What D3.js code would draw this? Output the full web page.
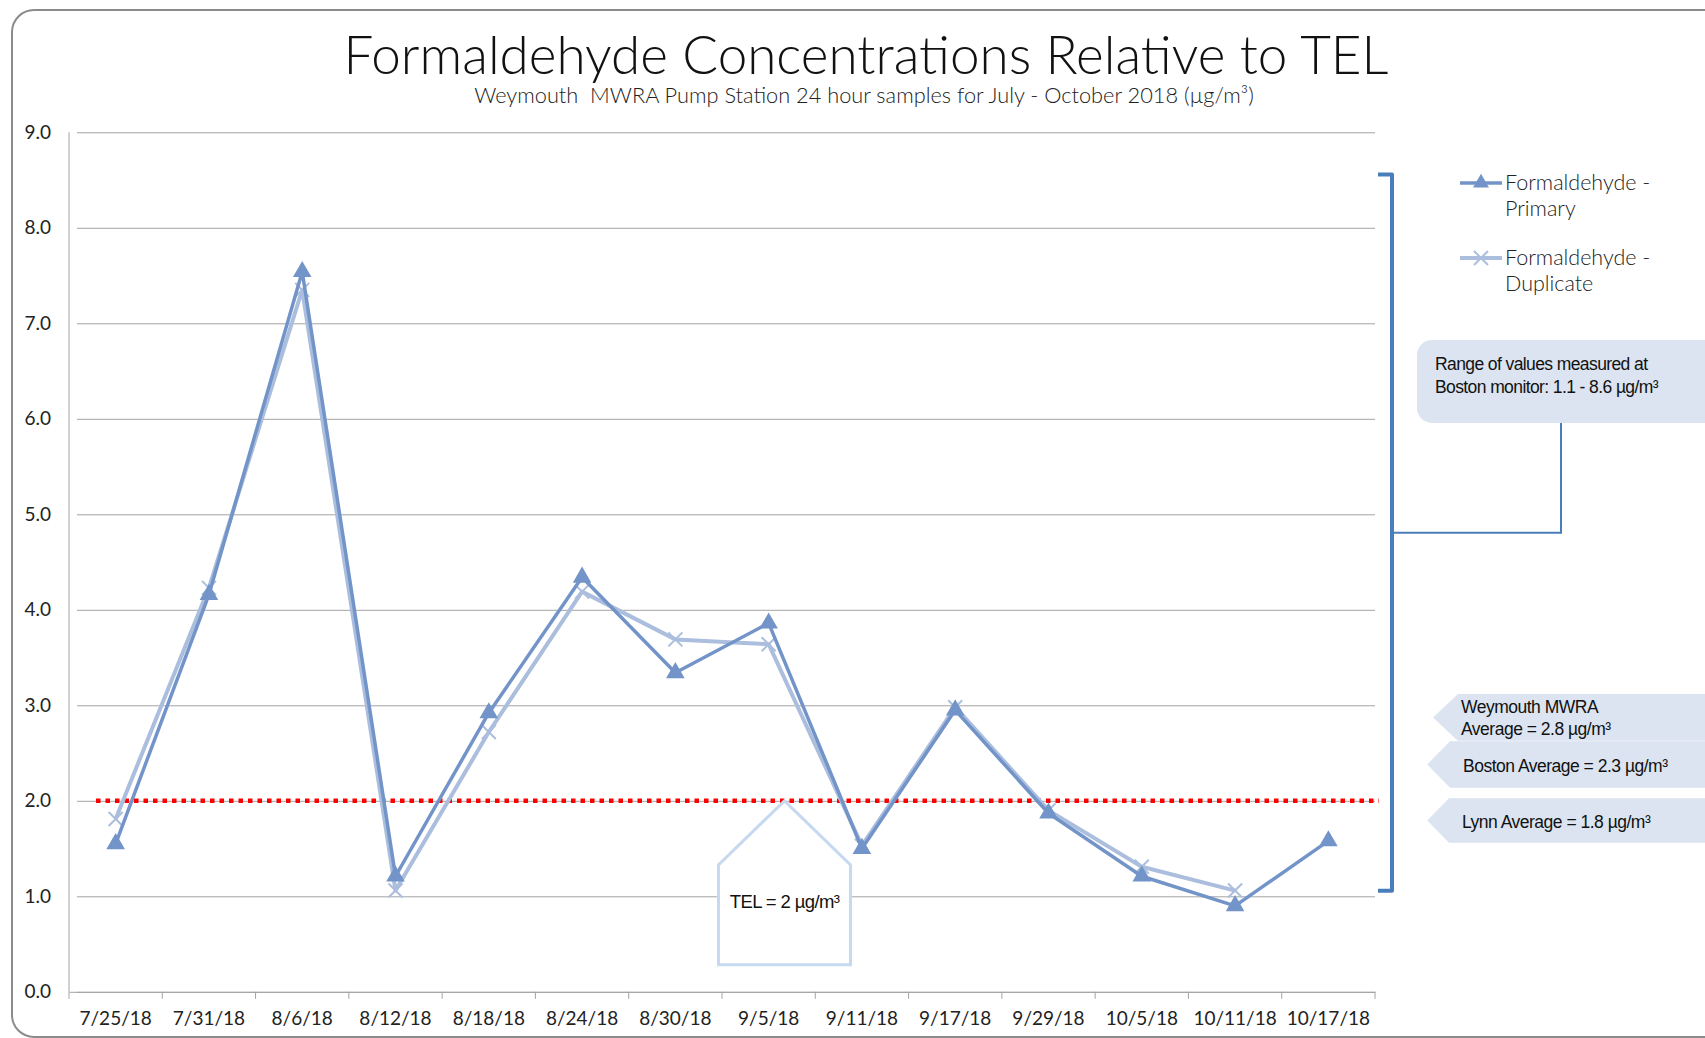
<!DOCTYPE html>
<html>
<head>
<meta charset="utf-8">
<script src="https://cdn.jsdelivr.net/npm/d3@7"></script>
<style>
  html, body { margin: 0; padding: 0; background: #fff; overflow: hidden; }
  svg { display: block; }
</style>
</head>
<body>
<div id="chart"></div>
<script>
// sample dates (x categories)
const dates = ["7/25/18", "7/31/18", "8/6/18", "8/12/18", "8/18/18", "8/24/18", "8/30/18",
               "9/5/18", "9/11/18", "9/17/18", "9/29/18", "10/5/18", "10/11/18", "10/17/18"];
// formaldehyde, µg/m3
const primary   = [1.55, 4.16, 7.54, 1.21, 2.92, 4.34, 3.34, 3.86, 1.50, 2.95, 1.87, 1.21, 0.90, 1.58];
const duplicate = [1.81, 4.23, 7.35, 1.06, 2.72, 4.19, 3.69, 3.64, 1.53, 2.98, 1.90, 1.31, 1.06, null];
const yTicks = [0, 1, 2, 3, 4, 5, 6, 7, 8, 9];
const telValue = 2;
const bostonRange = [1.1, 8.6];
const averageNotes = [
  ["Weymouth MWRA", "Average = 2.8 µg/m³"],
  ["Boston Average = 2.3 µg/m³"],
  ["Lynn Average = 1.8 µg/m³"]
];

const W = 1705, H = 1038;
const gothic = "Lato, 'Open Sans', sans-serif";
const arial = "'Liberation Sans', Arial, sans-serif";
const cPrimary = "#7394c8", cDup = "#abbedd";

const svg = d3.select("#chart").append("svg")
  .attr("width", W).attr("height", H);

// outer frame
svg.append("rect")
  .attr("x", 12).attr("y", 10).attr("width", 1730).attr("height", 1027)
  .attr("rx", 22)
  .attr("fill", "none").attr("stroke", "#8b8b8b").attr("stroke-width", 2);

// title
const fitWidth = (t, w) => {
  const cur = t.node().getComputedTextLength();
  t.attr("font-size", parseFloat(t.attr("font-size")) * w / cur);
};
const title = svg.append("text")
  .attr("x", 866).attr("y", 74).attr("text-anchor", "middle")
  .attr("font-family", gothic).attr("font-weight", 300).attr("font-size", 48).attr("fill", "#111")
  .text("Formaldehyde Concentrations Relative to TEL");
fitWidth(title, 1045);
const sub = svg.append("text")
  .attr("x", 864).attr("y", 103).attr("text-anchor", "middle")
  .attr("font-family", gothic).attr("font-weight", 300).attr("font-size", 18).attr("fill", "#222")
  .style("white-space", "pre")
  .text("Weymouth  MWRA Pump Station 24 hour samples for July - October 2018 (µg/m³)");
fitWidth(sub, 780);

// scales
const x = d3.scaleBand().domain(dates).range([69, 1375]);
const y = d3.scaleLinear().domain([0, 9]).range([991.8, 132.3]);
const cx = d => x(d) + x.bandwidth() / 2;

// grid + y axis
const yAxis = svg.append("g")
  .attr("transform", `translate(${x.range()[0]},0)`)
  .call(d3.axisLeft(y).tickValues(yTicks).tickFormat(d3.format(".1f"))
    .tickSize(-(x.range()[1] - x.range()[0])).tickPadding(18));
yAxis.select(".domain").remove();
yAxis.selectAll(".tick line").attr("stroke", "#a3a3a3").attr("x1", 8);
yAxis.selectAll(".tick text")
  .attr("font-family", gothic).attr("font-size", 19).attr("fill", "#222");
svg.append("line")
  .attr("x1", x.range()[0]).attr("x2", x.range()[0]).attr("y1", y(9)).attr("y2", y(0))
  .attr("stroke", "#a3a3a3");

// x axis: labels centred, ticks on band edges
const xAxis = svg.append("g")
  .attr("transform", `translate(0,${y(0)})`)
  .call(d3.axisBottom(x).tickSize(0).tickPadding(20));
xAxis.select(".domain").attr("stroke", "#a3a3a3");
xAxis.selectAll(".tick text")
  .attr("font-family", gothic).attr("font-size", 19).attr("fill", "#222");
svg.append("g").selectAll("line")
  .data(dates.map(d => x(d)).concat([x.range()[1]]))
  .join("line")
  .attr("x1", d => d).attr("x2", d => d)
  .attr("y1", y(0)).attr("y2", y(0) + 7)
  .attr("stroke", "#a3a3a3");

// TEL line
svg.append("line")
  .attr("x1", 96).attr("x2", 1379)
  .attr("y1", y(telValue)).attr("y2", y(telValue))
  .attr("stroke", "#ff0000").attr("stroke-width", 4.5)
  .attr("stroke-dasharray", "4.5 5");

// TEL callout (house shape)
const hx = x("9/5/18") + x.bandwidth() * 0.67, hy = y(telValue);
svg.append("path")
  .attr("d", `M${hx},${hy} L${hx + 66},${hy + 64} V${hy + 164} H${hx - 66} V${hy + 64} Z`)
  .attr("fill", "#fff").attr("stroke", "#c6d9f1").attr("stroke-width", 3)
  .attr("stroke-linejoin", "miter");
svg.append("text")
  .attr("x", hx).attr("y", hy + 107).attr("text-anchor", "middle")
  .attr("font-family", arial).attr("font-size", 18.5).attr("letter-spacing", -0.6)
  .attr("fill", "#111").text("TEL = 2 µg/m³");

// series
const line = d3.line()
  .defined(d => d[1] != null)
  .x(d => cx(d[0])).y(d => y(d[1]));
const dupPts = dates.map((d, i) => [d, duplicate[i]]);
const priPts = dates.map((d, i) => [d, primary[i]]);

svg.append("path").datum(dupPts)
  .attr("fill", "none").attr("stroke", cDup).attr("stroke-width", 4)
  .attr("stroke-linejoin", "round").attr("d", line);
const xMark = "M-7,-7L7,7M-7,7L7,-7";
svg.append("g").selectAll("path")
  .data(dupPts.filter(d => d[1] != null))
  .join("path")
  .attr("transform", d => `translate(${cx(d[0])},${y(d[1])})`)
  .attr("d", xMark).attr("stroke", cDup).attr("stroke-width", 2).attr("fill", "none");

svg.append("path").datum(priPts)
  .attr("fill", "none").attr("stroke", cPrimary).attr("stroke-width", 3.5)
  .attr("stroke-linejoin", "round").attr("d", line);
const tri = d3.symbol().type(d3.symbolTriangle).size(150);
svg.append("g").selectAll("path")
  .data(priPts)
  .join("path")
  .attr("transform", d => `translate(${cx(d[0])},${y(d[1])})`)
  .attr("d", tri).attr("fill", cPrimary);

// legend
const legend = svg.append("g");
[["Formaldehyde -", "Primary", cPrimary, "tri"], ["Formaldehyde -", "Duplicate", cDup, "x"]]
  .forEach((l, i) => {
    const g = legend.append("g").attr("transform", `translate(1460,${183 + i * 75})`);
    g.append("line").attr("x1", 0).attr("x2", 42)
      .attr("stroke", l[2]).attr("stroke-width", i === 0 ? 3.5 : 4);
    if (l[3] === "tri") {
      g.append("path").attr("transform", "translate(21,0)")
        .attr("d", d3.symbol().type(d3.symbolTriangle).size(110)).attr("fill", l[2]);
    } else {
      g.append("path").attr("transform", "translate(21,0)").attr("d", xMark)
        .attr("stroke", l[2]).attr("stroke-width", 2);
    }
    g.append("text").attr("x", 45).attr("y", 7)
      .attr("font-family", gothic).attr("font-weight", 300).attr("font-size", 21.5).attr("fill", "#222").text(l[0]);
    g.append("text").attr("x", 45).attr("y", 33)
      .attr("font-family", gothic).attr("font-weight", 300).attr("font-size", 21.5).attr("fill", "#222").text(l[1]);
  });

// Boston range bracket
const bx = 1392;
svg.append("path")
  .attr("d", `M1378,${y(bostonRange[1]) + 4} H${bx} V${y(bostonRange[0]) + 4} H1378`)
  .attr("fill", "none").attr("stroke", "#4a7ebb").attr("stroke-width", 4)
  .attr("stroke-linejoin", "round");
const midY = y((bostonRange[0] + bostonRange[1]) / 2) + 4;
svg.append("path")
  .attr("d", `M${bx},${midY} H1561 V420`)
  .attr("fill", "none").attr("stroke", "#4a7ebb").attr("stroke-width", 2);

const shade = "#dbe4f0";
svg.append("rect")
  .attr("x", 1417).attr("y", 340).attr("width", 320).attr("height", 83).attr("rx", 15)
  .attr("fill", shade);
const rangeText = svg.append("text")
  .attr("font-family", arial).attr("font-size", 17.5).attr("letter-spacing", -0.6).attr("fill", "#111");
rangeText.append("tspan").attr("x", 1435).attr("y", 370).text("Range of values measured at");
rangeText.append("tspan").attr("x", 1435).attr("y", 393)
  .text(`Boston monitor: ${bostonRange[0]} - ${bostonRange[1]} µg/m³`);

// average callouts (left-pointing pentagons)
const boxes = [
  { top: 694, bot: 741, tip: 1433, edge: 1458, lines: [713, 735] },
  { top: 741, bot: 788, tip: 1427, edge: 1450, lines: [772] },
  { top: 798, bot: 843, tip: 1427, edge: 1449, lines: [828] }
];
boxes.forEach((b, i) => {
  const m = (b.top + b.bot) / 2;
  svg.append("path")
    .attr("d", `M${b.tip},${m} L${b.edge},${b.top} H1710 V${b.bot} H${b.edge} Z`)
    .attr("fill", shade).attr("stroke", i === 0 ? "none" : "#fff").attr("stroke-width", 0.5);
  const t = svg.append("text")
    .attr("font-family", arial).attr("font-size", 17.5).attr("letter-spacing", -0.5).attr("fill", "#111");
  averageNotes[i].forEach((s, j) => {
    t.append("tspan").attr("x", b.edge + (i === 0 ? 3 : 13)).attr("y", b.lines[j]).text(s);
  });
});
</script>
</body>
</html>
